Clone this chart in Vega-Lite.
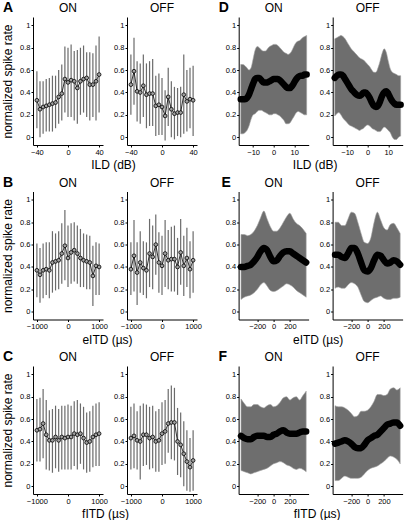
{
"$schema": "https://vega.github.io/schema/vega-lite/v6.json",
"padding": {"left": 1, "top": 1, "right": 0, "bottom": 0},
"spacing": 4.5,
"vconcat": [
 {"spacing": 20.7, "hconcat": [
  {"bounds": "flush", "spacing": 24,
   "title": {"text": "A", "anchor": "start", "frame": "group", "fontWeight": "bold", "fontSize": 14, "offset": -24, "baseline": "alphabetic", "dx": -30},
   "hconcat": [
    {"width": 70, "height": 128, "data": {"name": "A_ON"}, "title": {"text": "ON"},
     "encoding": {"x": {"field": "x", "type": "quantitative", "scale": {"domain": [-45, 45], "nice": false, "zero": false}, "axis": {"values": [-40, 0, 40], "format": "d", "title": "ILD (dB)", "titleX": 80}}},
     "layer": [
      {"mark": {"type": "rule", "color": "#6b6b6b", "strokeWidth": 1.2}, "encoding": {"y": {"field": "lo", "type": "quantitative", "scale": {"domain": [-0.07, 1.075], "nice": false, "zero": false}, "axis": {"values": [0, 0.2, 0.4, 0.6, 0.8, 1], "format": "~g"}, "title": "normalized spike rate"}, "y2": {"field": "hi"}}},
      {"mark": {"type": "line", "color": "black", "strokeWidth": 0.8}, "encoding": {"y": {"field": "m", "type": "quantitative", "scale": {"domain": [-0.07, 1.075], "nice": false, "zero": false}, "axis": {"values": [0, 0.2, 0.4, 0.6, 0.8, 1], "format": "~g"}, "title": "normalized spike rate"}}},
      {"mark": {"type": "point", "shape": "circle", "filled": true, "color": "#a0a0a0", "stroke": "black", "strokeWidth": 0.8, "size": 14, "opacity": 1}, "encoding": {"y": {"field": "m", "type": "quantitative", "scale": {"domain": [-0.07, 1.075], "nice": false, "zero": false}, "axis": {"values": [0, 0.2, 0.4, 0.6, 0.8, 1], "format": "~g"}, "title": "normalized spike rate"}}}
     ]},
    {"width": 70, "height": 128, "data": {"name": "A_OFF"}, "title": {"text": "OFF"},
     "encoding": {"x": {"field": "x", "type": "quantitative", "scale": {"domain": [-45, 45], "nice": false, "zero": false}, "axis": {"values": [-40, 0, 40], "format": "d", "title": null}}},
     "layer": [
      {"mark": {"type": "rule", "color": "#6b6b6b", "strokeWidth": 1.2}, "encoding": {"y": {"field": "lo", "type": "quantitative", "scale": {"domain": [-0.07, 1.075], "nice": false, "zero": false}, "axis": {"values": [0, 0.2, 0.4, 0.6, 0.8, 1], "format": "~g"}, "title": null}, "y2": {"field": "hi"}}},
      {"mark": {"type": "line", "color": "black", "strokeWidth": 0.8}, "encoding": {"y": {"field": "m", "type": "quantitative", "scale": {"domain": [-0.07, 1.075], "nice": false, "zero": false}, "axis": {"values": [0, 0.2, 0.4, 0.6, 0.8, 1], "format": "~g"}, "title": null}}},
      {"mark": {"type": "point", "shape": "circle", "filled": true, "color": "#a0a0a0", "stroke": "black", "strokeWidth": 0.8, "size": 14, "opacity": 1}, "encoding": {"y": {"field": "m", "type": "quantitative", "scale": {"domain": [-0.07, 1.075], "nice": false, "zero": false}, "axis": {"values": [0, 0.2, 0.4, 0.6, 0.8, 1], "format": "~g"}, "title": null}}}
     ]}
   ]},
  {"bounds": "flush", "spacing": 24,
   "title": {"text": "D", "anchor": "start", "frame": "group", "fontWeight": "bold", "fontSize": 14, "offset": -24, "baseline": "alphabetic", "dx": -20},
   "hconcat": [
    {"width": 70, "height": 128, "data": {"name": "D_ON"}, "title": {"text": "ON"},
     "encoding": {"x": {"field": "x", "type": "quantitative", "scale": {"domain": [-17, 17], "nice": false, "zero": false}, "axis": {"values": [-10, 0, 10], "format": "d", "title": "ILD (dB)", "titleX": 76}}},
     "layer": [
      {"mark": {"type": "area", "color": "#6e6e6e", "stroke": "#a0a0a0", "strokeWidth": 0.6, "opacity": 1, "interpolate": "monotone"}, "encoding": {"y": {"field": "lo", "type": "quantitative", "scale": {"domain": [-0.07, 1.075], "nice": false, "zero": false}, "axis": {"values": [0, 0.2, 0.4, 0.6, 0.8, 1], "format": "~g"}, "title": null}, "y2": {"field": "hi"}}},
      {"mark": {"type": "line", "color": "black", "strokeWidth": 6.5, "strokeCap": "round", "interpolate": "monotone"}, "encoding": {"y": {"field": "m", "type": "quantitative", "scale": {"domain": [-0.07, 1.075], "nice": false, "zero": false}, "axis": {"values": [0, 0.2, 0.4, 0.6, 0.8, 1], "format": "~g"}, "title": null}}}
     ]},
    {"width": 70, "height": 128, "data": {"name": "D_OFF"}, "title": {"text": "OFF"},
     "encoding": {"x": {"field": "x", "type": "quantitative", "scale": {"domain": [-17, 17], "nice": false, "zero": false}, "axis": {"values": [-10, 0, 10], "format": "d", "title": null}}},
     "layer": [
      {"mark": {"type": "area", "color": "#6e6e6e", "stroke": "#a0a0a0", "strokeWidth": 0.6, "opacity": 1, "interpolate": "monotone"}, "encoding": {"y": {"field": "lo", "type": "quantitative", "scale": {"domain": [-0.07, 1.075], "nice": false, "zero": false}, "axis": {"values": [0, 0.2, 0.4, 0.6, 0.8, 1], "format": "~g"}, "title": null}, "y2": {"field": "hi"}}},
      {"mark": {"type": "line", "color": "black", "strokeWidth": 6.5, "strokeCap": "round", "interpolate": "monotone"}, "encoding": {"y": {"field": "m", "type": "quantitative", "scale": {"domain": [-0.07, 1.075], "nice": false, "zero": false}, "axis": {"values": [0, 0.2, 0.4, 0.6, 0.8, 1], "format": "~g"}, "title": null}}}
     ]}
   ]}
 ]},
 {"spacing": 19.6, "hconcat": [
  {"bounds": "flush", "spacing": 24,
   "title": {"text": "B", "anchor": "start", "frame": "group", "fontWeight": "bold", "fontSize": 14, "offset": -24, "baseline": "alphabetic", "dx": -30},
   "hconcat": [
    {"width": 70, "height": 128, "data": {"name": "B_ON"}, "title": {"text": "ON"},
     "encoding": {"x": {"field": "x", "type": "quantitative", "scale": {"domain": [-1125, 1125], "nice": false, "zero": false}, "axis": {"values": [-1000, 0, 1000], "format": "d", "title": "eITD (µs)", "titleX": 74}}},
     "layer": [
      {"mark": {"type": "rule", "color": "#6b6b6b", "strokeWidth": 1.2}, "encoding": {"y": {"field": "lo", "type": "quantitative", "scale": {"domain": [-0.07, 1.075], "nice": false, "zero": false}, "axis": {"values": [0, 0.2, 0.4, 0.6, 0.8, 1], "format": "~g"}, "title": "normalized spike rate"}, "y2": {"field": "hi"}}},
      {"mark": {"type": "line", "color": "black", "strokeWidth": 0.8}, "encoding": {"y": {"field": "m", "type": "quantitative", "scale": {"domain": [-0.07, 1.075], "nice": false, "zero": false}, "axis": {"values": [0, 0.2, 0.4, 0.6, 0.8, 1], "format": "~g"}, "title": "normalized spike rate"}}},
      {"mark": {"type": "point", "shape": "circle", "filled": true, "color": "#a0a0a0", "stroke": "black", "strokeWidth": 0.8, "size": 14, "opacity": 1}, "encoding": {"y": {"field": "m", "type": "quantitative", "scale": {"domain": [-0.07, 1.075], "nice": false, "zero": false}, "axis": {"values": [0, 0.2, 0.4, 0.6, 0.8, 1], "format": "~g"}, "title": "normalized spike rate"}}}
     ]},
    {"width": 70, "height": 128, "data": {"name": "B_OFF"}, "title": {"text": "OFF"},
     "encoding": {"x": {"field": "x", "type": "quantitative", "scale": {"domain": [-1125, 1125], "nice": false, "zero": false}, "axis": {"values": [-1000, 0, 1000], "format": "d", "title": null}}},
     "layer": [
      {"mark": {"type": "rule", "color": "#6b6b6b", "strokeWidth": 1.2}, "encoding": {"y": {"field": "lo", "type": "quantitative", "scale": {"domain": [-0.07, 1.075], "nice": false, "zero": false}, "axis": {"values": [0, 0.2, 0.4, 0.6, 0.8, 1], "format": "~g"}, "title": null}, "y2": {"field": "hi"}}},
      {"mark": {"type": "line", "color": "black", "strokeWidth": 0.8}, "encoding": {"y": {"field": "m", "type": "quantitative", "scale": {"domain": [-0.07, 1.075], "nice": false, "zero": false}, "axis": {"values": [0, 0.2, 0.4, 0.6, 0.8, 1], "format": "~g"}, "title": null}}},
      {"mark": {"type": "point", "shape": "circle", "filled": true, "color": "#a0a0a0", "stroke": "black", "strokeWidth": 0.8, "size": 14, "opacity": 1}, "encoding": {"y": {"field": "m", "type": "quantitative", "scale": {"domain": [-0.07, 1.075], "nice": false, "zero": false}, "axis": {"values": [0, 0.2, 0.4, 0.6, 0.8, 1], "format": "~g"}, "title": null}}}
     ]}
   ]},
  {"bounds": "flush", "spacing": 24,
   "title": {"text": "E", "anchor": "start", "frame": "group", "fontWeight": "bold", "fontSize": 14, "offset": -24, "baseline": "alphabetic", "dx": -17},
   "hconcat": [
    {"width": 70, "height": 128, "data": {"name": "E_ON"}, "title": {"text": "ON"},
     "encoding": {"x": {"field": "x", "type": "quantitative", "scale": {"domain": [-430, 430], "nice": false, "zero": false}, "axis": {"values": [-200, 0, 200], "format": "d", "title": "eITD (µs)", "titleX": 79}}},
     "layer": [
      {"mark": {"type": "area", "color": "#6e6e6e", "stroke": "#a0a0a0", "strokeWidth": 0.6, "opacity": 1, "interpolate": "monotone"}, "encoding": {"y": {"field": "lo", "type": "quantitative", "scale": {"domain": [-0.07, 1.075], "nice": false, "zero": false}, "axis": {"values": [0, 0.2, 0.4, 0.6, 0.8, 1], "format": "~g"}, "title": null}, "y2": {"field": "hi"}}},
      {"mark": {"type": "line", "color": "black", "strokeWidth": 6.5, "strokeCap": "round", "interpolate": "monotone"}, "encoding": {"y": {"field": "m", "type": "quantitative", "scale": {"domain": [-0.07, 1.075], "nice": false, "zero": false}, "axis": {"values": [0, 0.2, 0.4, 0.6, 0.8, 1], "format": "~g"}, "title": null}}}
     ]},
    {"width": 70, "height": 128, "data": {"name": "E_OFF"}, "title": {"text": "OFF"},
     "encoding": {"x": {"field": "x", "type": "quantitative", "scale": {"domain": [-430, 430], "nice": false, "zero": false}, "axis": {"values": [-200, 0, 200], "format": "d", "title": null}}},
     "layer": [
      {"mark": {"type": "area", "color": "#6e6e6e", "stroke": "#a0a0a0", "strokeWidth": 0.6, "opacity": 1, "interpolate": "monotone"}, "encoding": {"y": {"field": "lo", "type": "quantitative", "scale": {"domain": [-0.07, 1.075], "nice": false, "zero": false}, "axis": {"values": [0, 0.2, 0.4, 0.6, 0.8, 1], "format": "~g"}, "title": null}, "y2": {"field": "hi"}}},
      {"mark": {"type": "line", "color": "black", "strokeWidth": 6.5, "strokeCap": "round", "interpolate": "monotone"}, "encoding": {"y": {"field": "m", "type": "quantitative", "scale": {"domain": [-0.07, 1.075], "nice": false, "zero": false}, "axis": {"values": [0, 0.2, 0.4, 0.6, 0.8, 1], "format": "~g"}, "title": null}}}
     ]}
   ]}
 ]},
 {"spacing": 16.6, "hconcat": [
  {"bounds": "flush", "spacing": 24,
   "title": {"text": "C", "anchor": "start", "frame": "group", "fontWeight": "bold", "fontSize": 14, "offset": -24, "baseline": "alphabetic", "dx": -30},
   "hconcat": [
    {"width": 70, "height": 128, "data": {"name": "C_ON"}, "title": {"text": "ON"},
     "encoding": {"x": {"field": "x", "type": "quantitative", "scale": {"domain": [-1125, 1125], "nice": false, "zero": false}, "axis": {"values": [-1000, 0, 1000], "format": "d", "title": "fITD (µs)", "titleX": 72}}},
     "layer": [
      {"mark": {"type": "rule", "color": "#6b6b6b", "strokeWidth": 1.2}, "encoding": {"y": {"field": "lo", "type": "quantitative", "scale": {"domain": [-0.07, 1.075], "nice": false, "zero": false}, "axis": {"values": [0, 0.2, 0.4, 0.6, 0.8, 1], "format": "~g"}, "title": "normalized spike rate"}, "y2": {"field": "hi"}}},
      {"mark": {"type": "line", "color": "black", "strokeWidth": 0.8}, "encoding": {"y": {"field": "m", "type": "quantitative", "scale": {"domain": [-0.07, 1.075], "nice": false, "zero": false}, "axis": {"values": [0, 0.2, 0.4, 0.6, 0.8, 1], "format": "~g"}, "title": "normalized spike rate"}}},
      {"mark": {"type": "point", "shape": "circle", "filled": true, "color": "#a0a0a0", "stroke": "black", "strokeWidth": 0.8, "size": 14, "opacity": 1}, "encoding": {"y": {"field": "m", "type": "quantitative", "scale": {"domain": [-0.07, 1.075], "nice": false, "zero": false}, "axis": {"values": [0, 0.2, 0.4, 0.6, 0.8, 1], "format": "~g"}, "title": "normalized spike rate"}}}
     ]},
    {"width": 70, "height": 128, "data": {"name": "C_OFF"}, "title": {"text": "OFF"},
     "encoding": {"x": {"field": "x", "type": "quantitative", "scale": {"domain": [-1125, 1125], "nice": false, "zero": false}, "axis": {"values": [-1000, 0, 1000], "format": "d", "title": null}}},
     "layer": [
      {"mark": {"type": "rule", "color": "#6b6b6b", "strokeWidth": 1.2}, "encoding": {"y": {"field": "lo", "type": "quantitative", "scale": {"domain": [-0.07, 1.075], "nice": false, "zero": false}, "axis": {"values": [0, 0.2, 0.4, 0.6, 0.8, 1], "format": "~g"}, "title": null}, "y2": {"field": "hi"}}},
      {"mark": {"type": "line", "color": "black", "strokeWidth": 0.8}, "encoding": {"y": {"field": "m", "type": "quantitative", "scale": {"domain": [-0.07, 1.075], "nice": false, "zero": false}, "axis": {"values": [0, 0.2, 0.4, 0.6, 0.8, 1], "format": "~g"}, "title": null}}},
      {"mark": {"type": "point", "shape": "circle", "filled": true, "color": "#a0a0a0", "stroke": "black", "strokeWidth": 0.8, "size": 14, "opacity": 1}, "encoding": {"y": {"field": "m", "type": "quantitative", "scale": {"domain": [-0.07, 1.075], "nice": false, "zero": false}, "axis": {"values": [0, 0.2, 0.4, 0.6, 0.8, 1], "format": "~g"}, "title": null}}}
     ]}
   ]},
  {"bounds": "flush", "spacing": 24,
   "title": {"text": "F", "anchor": "start", "frame": "group", "fontWeight": "bold", "fontSize": 14, "offset": -24, "baseline": "alphabetic", "dx": -20},
   "hconcat": [
    {"width": 70, "height": 128, "data": {"name": "F_ON"}, "title": {"text": "ON"},
     "encoding": {"x": {"field": "x", "type": "quantitative", "scale": {"domain": [-430, 430], "nice": false, "zero": false}, "axis": {"values": [-200, 0, 200], "format": "d", "title": "fITD (µs)", "titleX": 78}}},
     "layer": [
      {"mark": {"type": "area", "color": "#6e6e6e", "stroke": "#a0a0a0", "strokeWidth": 0.6, "opacity": 1, "interpolate": "monotone"}, "encoding": {"y": {"field": "lo", "type": "quantitative", "scale": {"domain": [-0.07, 1.075], "nice": false, "zero": false}, "axis": {"values": [0, 0.2, 0.4, 0.6, 0.8, 1], "format": "~g"}, "title": null}, "y2": {"field": "hi"}}},
      {"mark": {"type": "line", "color": "black", "strokeWidth": 6.5, "strokeCap": "round", "interpolate": "monotone"}, "encoding": {"y": {"field": "m", "type": "quantitative", "scale": {"domain": [-0.07, 1.075], "nice": false, "zero": false}, "axis": {"values": [0, 0.2, 0.4, 0.6, 0.8, 1], "format": "~g"}, "title": null}}}
     ]},
    {"width": 70, "height": 128, "data": {"name": "F_OFF"}, "title": {"text": "OFF"},
     "encoding": {"x": {"field": "x", "type": "quantitative", "scale": {"domain": [-430, 430], "nice": false, "zero": false}, "axis": {"values": [-200, 0, 200], "format": "d", "title": null}}},
     "layer": [
      {"mark": {"type": "area", "color": "#6e6e6e", "stroke": "#a0a0a0", "strokeWidth": 0.6, "opacity": 1, "interpolate": "monotone"}, "encoding": {"y": {"field": "lo", "type": "quantitative", "scale": {"domain": [-0.07, 1.075], "nice": false, "zero": false}, "axis": {"values": [0, 0.2, 0.4, 0.6, 0.8, 1], "format": "~g"}, "title": null}, "y2": {"field": "hi"}}},
      {"mark": {"type": "line", "color": "black", "strokeWidth": 6.5, "strokeCap": "round", "interpolate": "monotone"}, "encoding": {"y": {"field": "m", "type": "quantitative", "scale": {"domain": [-0.07, 1.075], "nice": false, "zero": false}, "axis": {"values": [0, 0.2, 0.4, 0.6, 0.8, 1], "format": "~g"}, "title": null}}}
     ]}
   ]}
 ]}
],
"datasets": {
 "A_ON": [
  {"x": -40, "m": 0.33, "lo": 0.08, "hi": 0.59}, {"x": -36, "m": 0.25, "lo": 0.00, "hi": 0.50}, {"x": -32, "m": 0.27, "lo": 0.03, "hi": 0.50},
  {"x": -28, "m": 0.28, "lo": 0.05, "hi": 0.52}, {"x": -24, "m": 0.29, "lo": 0.05, "hi": 0.53}, {"x": -20, "m": 0.30, "lo": 0.05, "hi": 0.55},
  {"x": -16, "m": 0.31, "lo": 0.08, "hi": 0.55}, {"x": -12, "m": 0.36, "lo": 0.12, "hi": 0.60}, {"x": -8, "m": 0.39, "lo": 0.15, "hi": 0.65},
  {"x": -4, "m": 0.52, "lo": 0.22, "hi": 0.81}, {"x": 0, "m": 0.49, "lo": 0.18, "hi": 0.80}, {"x": 4, "m": 0.51, "lo": 0.18, "hi": 0.83},
  {"x": 8, "m": 0.50, "lo": 0.15, "hi": 0.77}, {"x": 12, "m": 0.44, "lo": 0.12, "hi": 0.78}, {"x": 16, "m": 0.50, "lo": 0.20, "hi": 0.80},
  {"x": 20, "m": 0.52, "lo": 0.22, "hi": 0.82}, {"x": 24, "m": 0.53, "lo": 0.18, "hi": 0.76}, {"x": 28, "m": 0.47, "lo": 0.15, "hi": 0.76},
  {"x": 32, "m": 0.47, "lo": 0.18, "hi": 0.75}, {"x": 36, "m": 0.50, "lo": 0.15, "hi": 0.82}, {"x": 40, "m": 0.56, "lo": 0.22, "hi": 0.90}
 ],
 "A_OFF": [
  {"x": -40, "m": 0.47, "lo": 0.20, "hi": 0.74}, {"x": -36, "m": 0.59, "lo": 0.29, "hi": 0.89}, {"x": -32, "m": 0.41, "lo": 0.14, "hi": 0.68},
  {"x": -28, "m": 0.40, "lo": 0.12, "hi": 0.66}, {"x": -24, "m": 0.46, "lo": 0.18, "hi": 0.74}, {"x": -20, "m": 0.38, "lo": 0.08, "hi": 0.66},
  {"x": -16, "m": 0.39, "lo": 0.10, "hi": 0.68}, {"x": -12, "m": 0.39, "lo": 0.10, "hi": 0.70}, {"x": -8, "m": 0.28, "lo": 0.01, "hi": 0.55},
  {"x": -4, "m": 0.29, "lo": 0.02, "hi": 0.57}, {"x": 0, "m": 0.27, "lo": 0.02, "hi": 0.53}, {"x": 4, "m": 0.19, "lo": -0.03, "hi": 0.42},
  {"x": 8, "m": 0.36, "lo": 0.10, "hi": 0.62}, {"x": 12, "m": 0.25, "lo": 0.00, "hi": 0.50}, {"x": 16, "m": 0.21, "lo": -0.02, "hi": 0.45},
  {"x": 20, "m": 0.22, "lo": 0.01, "hi": 0.44}, {"x": 24, "m": 0.22, "lo": 0.00, "hi": 0.45}, {"x": 28, "m": 0.38, "lo": 0.03, "hi": 0.74},
  {"x": 32, "m": 0.32, "lo": 0.05, "hi": 0.60}, {"x": 36, "m": 0.34, "lo": 0.08, "hi": 0.62}, {"x": 40, "m": 0.33, "lo": 0.01, "hi": 0.64}
 ],
 "B_ON": [
  {"x": -1000, "m": 0.37, "lo": 0.13, "hi": 0.61}, {"x": -900, "m": 0.33, "lo": 0.08, "hi": 0.57}, {"x": -800, "m": 0.37, "lo": 0.12, "hi": 0.61},
  {"x": -700, "m": 0.38, "lo": 0.15, "hi": 0.62}, {"x": -600, "m": 0.37, "lo": 0.12, "hi": 0.62}, {"x": -500, "m": 0.44, "lo": 0.17, "hi": 0.72},
  {"x": -400, "m": 0.45, "lo": 0.19, "hi": 0.70}, {"x": -300, "m": 0.46, "lo": 0.20, "hi": 0.72}, {"x": -200, "m": 0.52, "lo": 0.25, "hi": 0.79},
  {"x": -100, "m": 0.59, "lo": 0.28, "hi": 0.91}, {"x": 0, "m": 0.48, "lo": 0.22, "hi": 0.77}, {"x": 100, "m": 0.53, "lo": 0.25, "hi": 0.79},
  {"x": 200, "m": 0.55, "lo": 0.27, "hi": 0.80}, {"x": 300, "m": 0.52, "lo": 0.25, "hi": 0.77}, {"x": 400, "m": 0.48, "lo": 0.22, "hi": 0.74},
  {"x": 500, "m": 0.46, "lo": 0.22, "hi": 0.70}, {"x": 600, "m": 0.45, "lo": 0.20, "hi": 0.69}, {"x": 700, "m": 0.44, "lo": 0.20, "hi": 0.68},
  {"x": 800, "m": 0.32, "lo": 0.05, "hi": 0.59}, {"x": 900, "m": 0.41, "lo": 0.15, "hi": 0.62}, {"x": 1000, "m": 0.40, "lo": 0.15, "hi": 0.61}
 ],
 "B_OFF": [
  {"x": -1000, "m": 0.38, "lo": 0.15, "hi": 0.62}, {"x": -900, "m": 0.50, "lo": 0.18, "hi": 0.82}, {"x": -800, "m": 0.35, "lo": 0.06, "hi": 0.62},
  {"x": -700, "m": 0.44, "lo": 0.17, "hi": 0.72}, {"x": -600, "m": 0.39, "lo": 0.15, "hi": 0.63}, {"x": -500, "m": 0.37, "lo": 0.12, "hi": 0.62},
  {"x": -400, "m": 0.52, "lo": 0.22, "hi": 0.83}, {"x": -300, "m": 0.49, "lo": 0.20, "hi": 0.77}, {"x": -200, "m": 0.60, "lo": 0.33, "hi": 0.87},
  {"x": -100, "m": 0.44, "lo": 0.17, "hi": 0.71}, {"x": 0, "m": 0.41, "lo": 0.15, "hi": 0.68}, {"x": 100, "m": 0.52, "lo": 0.22, "hi": 0.82},
  {"x": 200, "m": 0.46, "lo": 0.20, "hi": 0.73}, {"x": 300, "m": 0.47, "lo": 0.18, "hi": 0.76}, {"x": 400, "m": 0.47, "lo": 0.18, "hi": 0.77},
  {"x": 500, "m": 0.40, "lo": 0.15, "hi": 0.66}, {"x": 600, "m": 0.53, "lo": 0.24, "hi": 0.83}, {"x": 700, "m": 0.41, "lo": 0.14, "hi": 0.68},
  {"x": 800, "m": 0.48, "lo": 0.22, "hi": 0.75}, {"x": 900, "m": 0.38, "lo": 0.12, "hi": 0.63}, {"x": 1000, "m": 0.46, "lo": 0.17, "hi": 0.72}
 ],
 "C_ON": [
  {"x": -1000, "m": 0.50, "lo": 0.22, "hi": 0.78}, {"x": -900, "m": 0.51, "lo": 0.22, "hi": 0.79}, {"x": -800, "m": 0.56, "lo": 0.25, "hi": 0.87},
  {"x": -700, "m": 0.46, "lo": 0.15, "hi": 0.77}, {"x": -600, "m": 0.41, "lo": 0.14, "hi": 0.68}, {"x": -500, "m": 0.41, "lo": 0.12, "hi": 0.69},
  {"x": -400, "m": 0.44, "lo": 0.16, "hi": 0.72}, {"x": -300, "m": 0.41, "lo": 0.13, "hi": 0.69}, {"x": -200, "m": 0.44, "lo": 0.15, "hi": 0.72},
  {"x": -100, "m": 0.43, "lo": 0.15, "hi": 0.72}, {"x": 0, "m": 0.44, "lo": 0.15, "hi": 0.73}, {"x": 100, "m": 0.44, "lo": 0.15, "hi": 0.72},
  {"x": 200, "m": 0.47, "lo": 0.18, "hi": 0.76}, {"x": 300, "m": 0.46, "lo": 0.15, "hi": 0.77}, {"x": 400, "m": 0.47, "lo": 0.20, "hi": 0.74},
  {"x": 500, "m": 0.43, "lo": 0.15, "hi": 0.71}, {"x": 600, "m": 0.39, "lo": 0.12, "hi": 0.66}, {"x": 700, "m": 0.40, "lo": 0.13, "hi": 0.67},
  {"x": 800, "m": 0.44, "lo": 0.17, "hi": 0.72}, {"x": 900, "m": 0.46, "lo": 0.18, "hi": 0.74}, {"x": 1000, "m": 0.47, "lo": 0.18, "hi": 0.75}
 ],
 "C_OFF": [
  {"x": -1000, "m": 0.43, "lo": 0.15, "hi": 0.71}, {"x": -900, "m": 0.45, "lo": 0.16, "hi": 0.74}, {"x": -800, "m": 0.41, "lo": 0.15, "hi": 0.67},
  {"x": -700, "m": 0.40, "lo": 0.06, "hi": 0.72}, {"x": -600, "m": 0.46, "lo": 0.18, "hi": 0.74}, {"x": -500, "m": 0.46, "lo": 0.19, "hi": 0.73},
  {"x": -400, "m": 0.43, "lo": 0.15, "hi": 0.71}, {"x": -300, "m": 0.44, "lo": 0.16, "hi": 0.72}, {"x": -200, "m": 0.40, "lo": 0.13, "hi": 0.67},
  {"x": -100, "m": 0.41, "lo": 0.13, "hi": 0.69}, {"x": 0, "m": 0.47, "lo": 0.19, "hi": 0.75}, {"x": 100, "m": 0.49, "lo": 0.20, "hi": 0.77},
  {"x": 200, "m": 0.56, "lo": 0.30, "hi": 0.87}, {"x": 300, "m": 0.57, "lo": 0.24, "hi": 0.90}, {"x": 400, "m": 0.57, "lo": 0.23, "hi": 0.88},
  {"x": 500, "m": 0.40, "lo": 0.10, "hi": 0.70}, {"x": 600, "m": 0.37, "lo": 0.08, "hi": 0.66}, {"x": 700, "m": 0.29, "lo": 0.00, "hi": 0.58},
  {"x": 800, "m": 0.22, "lo": -0.04, "hi": 0.50}, {"x": 900, "m": 0.17, "lo": -0.05, "hi": 0.43}, {"x": 1000, "m": 0.23, "lo": -0.04, "hi": 0.50}
 ],
 "D_ON": [
  {"x": -16, "m": 0.34, "lo": 0.03, "hi": 0.65}, {"x": -15, "m": 0.34, "lo": 0.03, "hi": 0.65}, {"x": -14, "m": 0.34, "lo": 0.04, "hi": 0.64},
  {"x": -13, "m": 0.35, "lo": 0.06, "hi": 0.62}, {"x": -12, "m": 0.38, "lo": 0.10, "hi": 0.60}, {"x": -11, "m": 0.43, "lo": 0.16, "hi": 0.62},
  {"x": -10, "m": 0.48, "lo": 0.20, "hi": 0.70}, {"x": -9, "m": 0.52, "lo": 0.21, "hi": 0.78}, {"x": -8, "m": 0.53, "lo": 0.23, "hi": 0.81},
  {"x": -7, "m": 0.53, "lo": 0.24, "hi": 0.80}, {"x": -6, "m": 0.51, "lo": 0.24, "hi": 0.78}, {"x": -5, "m": 0.49, "lo": 0.23, "hi": 0.77},
  {"x": -4, "m": 0.49, "lo": 0.22, "hi": 0.77}, {"x": -3, "m": 0.49, "lo": 0.21, "hi": 0.79}, {"x": -2, "m": 0.50, "lo": 0.20, "hi": 0.81},
  {"x": -1, "m": 0.51, "lo": 0.20, "hi": 0.82}, {"x": 0, "m": 0.52, "lo": 0.21, "hi": 0.83}, {"x": 1, "m": 0.52, "lo": 0.21, "hi": 0.83},
  {"x": 2, "m": 0.52, "lo": 0.20, "hi": 0.82}, {"x": 3, "m": 0.51, "lo": 0.19, "hi": 0.80}, {"x": 4, "m": 0.49, "lo": 0.17, "hi": 0.78},
  {"x": 5, "m": 0.47, "lo": 0.15, "hi": 0.76}, {"x": 6, "m": 0.45, "lo": 0.12, "hi": 0.75}, {"x": 7, "m": 0.44, "lo": 0.12, "hi": 0.74},
  {"x": 8, "m": 0.44, "lo": 0.13, "hi": 0.75}, {"x": 9, "m": 0.46, "lo": 0.16, "hi": 0.78}, {"x": 10, "m": 0.49, "lo": 0.19, "hi": 0.82},
  {"x": 11, "m": 0.52, "lo": 0.22, "hi": 0.85}, {"x": 12, "m": 0.54, "lo": 0.23, "hi": 0.86}, {"x": 13, "m": 0.55, "lo": 0.22, "hi": 0.87},
  {"x": 14, "m": 0.55, "lo": 0.21, "hi": 0.89}, {"x": 15, "m": 0.56, "lo": 0.20, "hi": 0.90}, {"x": 16, "m": 0.56, "lo": 0.20, "hi": 0.91}
 ],
 "D_OFF": [
  {"x": -16, "m": 0.53, "lo": 0.19, "hi": 0.88}, {"x": -15, "m": 0.55, "lo": 0.21, "hi": 0.89}, {"x": -14, "m": 0.56, "lo": 0.22, "hi": 0.90},
  {"x": -13, "m": 0.56, "lo": 0.20, "hi": 0.91}, {"x": -12, "m": 0.55, "lo": 0.17, "hi": 0.90}, {"x": -11, "m": 0.52, "lo": 0.15, "hi": 0.88},
  {"x": -10, "m": 0.49, "lo": 0.13, "hi": 0.85}, {"x": -9, "m": 0.46, "lo": 0.11, "hi": 0.82}, {"x": -8, "m": 0.43, "lo": 0.10, "hi": 0.79},
  {"x": -7, "m": 0.41, "lo": 0.09, "hi": 0.77}, {"x": -6, "m": 0.39, "lo": 0.08, "hi": 0.75}, {"x": -5, "m": 0.375, "lo": 0.07, "hi": 0.73},
  {"x": -4, "m": 0.37, "lo": 0.06, "hi": 0.71}, {"x": -3, "m": 0.38, "lo": 0.07, "hi": 0.70}, {"x": -2, "m": 0.40, "lo": 0.08, "hi": 0.69},
  {"x": -1, "m": 0.40, "lo": 0.10, "hi": 0.67}, {"x": 0, "m": 0.38, "lo": 0.11, "hi": 0.65}, {"x": 1, "m": 0.35, "lo": 0.10, "hi": 0.63},
  {"x": 2, "m": 0.31, "lo": 0.08, "hi": 0.60}, {"x": 3, "m": 0.28, "lo": 0.07, "hi": 0.58}, {"x": 4, "m": 0.27, "lo": 0.06, "hi": 0.58},
  {"x": 5, "m": 0.28, "lo": 0.05, "hi": 0.62}, {"x": 6, "m": 0.32, "lo": 0.05, "hi": 0.68}, {"x": 7, "m": 0.37, "lo": 0.07, "hi": 0.75},
  {"x": 8, "m": 0.40, "lo": 0.09, "hi": 0.79}, {"x": 9, "m": 0.41, "lo": 0.08, "hi": 0.76}, {"x": 10, "m": 0.39, "lo": 0.06, "hi": 0.68},
  {"x": 11, "m": 0.35, "lo": 0.04, "hi": 0.61}, {"x": 12, "m": 0.32, "lo": 0.00, "hi": 0.58}, {"x": 13, "m": 0.30, "lo": -0.02, "hi": 0.57},
  {"x": 14, "m": 0.29, "lo": -0.02, "hi": 0.56}, {"x": 15, "m": 0.29, "lo": 0.00, "hi": 0.55}, {"x": 16, "m": 0.29, "lo": 0.01, "hi": 0.55}
 ],
 "E_ON": [
  {"x": -400, "m": 0.40, "lo": 0.11, "hi": 0.69}, {"x": -360, "m": 0.40, "lo": 0.13, "hi": 0.69}, {"x": -320, "m": 0.41, "lo": 0.14, "hi": 0.68},
  {"x": -280, "m": 0.42, "lo": 0.15, "hi": 0.69}, {"x": -240, "m": 0.45, "lo": 0.17, "hi": 0.72}, {"x": -200, "m": 0.49, "lo": 0.20, "hi": 0.77},
  {"x": -160, "m": 0.54, "lo": 0.24, "hi": 0.84}, {"x": -120, "m": 0.57, "lo": 0.26, "hi": 0.90}, {"x": -80, "m": 0.55, "lo": 0.23, "hi": 0.83},
  {"x": -40, "m": 0.49, "lo": 0.19, "hi": 0.76}, {"x": 0, "m": 0.45, "lo": 0.18, "hi": 0.72}, {"x": 40, "m": 0.46, "lo": 0.19, "hi": 0.72},
  {"x": 80, "m": 0.50, "lo": 0.21, "hi": 0.75}, {"x": 120, "m": 0.53, "lo": 0.23, "hi": 0.80}, {"x": 160, "m": 0.54, "lo": 0.25, "hi": 0.85},
  {"x": 200, "m": 0.54, "lo": 0.24, "hi": 0.88}, {"x": 240, "m": 0.52, "lo": 0.22, "hi": 0.83}, {"x": 280, "m": 0.50, "lo": 0.19, "hi": 0.79},
  {"x": 320, "m": 0.48, "lo": 0.17, "hi": 0.77}, {"x": 360, "m": 0.46, "lo": 0.15, "hi": 0.74}, {"x": 400, "m": 0.44, "lo": 0.13, "hi": 0.70}
 ],
 "E_OFF": [
  {"x": -400, "m": 0.51, "lo": 0.21, "hi": 0.80}, {"x": -360, "m": 0.51, "lo": 0.22, "hi": 0.80}, {"x": -320, "m": 0.49, "lo": 0.21, "hi": 0.77},
  {"x": -280, "m": 0.48, "lo": 0.21, "hi": 0.77}, {"x": -240, "m": 0.52, "lo": 0.24, "hi": 0.83}, {"x": -200, "m": 0.57, "lo": 0.26, "hi": 0.89},
  {"x": -160, "m": 0.57, "lo": 0.25, "hi": 0.88}, {"x": -120, "m": 0.52, "lo": 0.22, "hi": 0.80}, {"x": -80, "m": 0.44, "lo": 0.15, "hi": 0.70},
  {"x": -40, "m": 0.37, "lo": 0.09, "hi": 0.62}, {"x": 0, "m": 0.36, "lo": 0.08, "hi": 0.61}, {"x": 40, "m": 0.39, "lo": 0.10, "hi": 0.66},
  {"x": 80, "m": 0.46, "lo": 0.12, "hi": 0.80}, {"x": 120, "m": 0.51, "lo": 0.13, "hi": 0.89}, {"x": 160, "m": 0.50, "lo": 0.14, "hi": 0.82},
  {"x": 200, "m": 0.46, "lo": 0.12, "hi": 0.75}, {"x": 240, "m": 0.43, "lo": 0.11, "hi": 0.73}, {"x": 280, "m": 0.44, "lo": 0.11, "hi": 0.78},
  {"x": 320, "m": 0.46, "lo": 0.12, "hi": 0.79}, {"x": 360, "m": 0.45, "lo": 0.12, "hi": 0.75}, {"x": 400, "m": 0.42, "lo": 0.13, "hi": 0.70}
 ],
 "F_ON": [
  {"x": -400, "m": 0.45, "lo": 0.14, "hi": 0.78}, {"x": -360, "m": 0.43, "lo": 0.13, "hi": 0.74}, {"x": -320, "m": 0.42, "lo": 0.12, "hi": 0.71},
  {"x": -280, "m": 0.42, "lo": 0.11, "hi": 0.71}, {"x": -240, "m": 0.44, "lo": 0.12, "hi": 0.73}, {"x": -200, "m": 0.45, "lo": 0.13, "hi": 0.73},
  {"x": -160, "m": 0.45, "lo": 0.14, "hi": 0.71}, {"x": -120, "m": 0.45, "lo": 0.15, "hi": 0.70}, {"x": -80, "m": 0.44, "lo": 0.16, "hi": 0.72},
  {"x": -40, "m": 0.44, "lo": 0.18, "hi": 0.73}, {"x": 0, "m": 0.46, "lo": 0.20, "hi": 0.71}, {"x": 40, "m": 0.47, "lo": 0.21, "hi": 0.72},
  {"x": 80, "m": 0.49, "lo": 0.22, "hi": 0.75}, {"x": 120, "m": 0.50, "lo": 0.21, "hi": 0.79}, {"x": 160, "m": 0.48, "lo": 0.19, "hi": 0.80},
  {"x": 200, "m": 0.47, "lo": 0.18, "hi": 0.77}, {"x": 240, "m": 0.47, "lo": 0.16, "hi": 0.79}, {"x": 280, "m": 0.47, "lo": 0.15, "hi": 0.80},
  {"x": 320, "m": 0.48, "lo": 0.16, "hi": 0.77}, {"x": 360, "m": 0.49, "lo": 0.15, "hi": 0.81}, {"x": 400, "m": 0.49, "lo": 0.13, "hi": 0.85}
 ],
 "F_OFF": [
  {"x": -400, "m": 0.38, "lo": 0.05, "hi": 0.72}, {"x": -360, "m": 0.39, "lo": 0.05, "hi": 0.71}, {"x": -320, "m": 0.40, "lo": 0.07, "hi": 0.71},
  {"x": -280, "m": 0.41, "lo": 0.09, "hi": 0.70}, {"x": -240, "m": 0.40, "lo": 0.08, "hi": 0.68}, {"x": -200, "m": 0.38, "lo": 0.07, "hi": 0.65},
  {"x": -160, "m": 0.35, "lo": 0.07, "hi": 0.62}, {"x": -120, "m": 0.34, "lo": 0.07, "hi": 0.63}, {"x": -80, "m": 0.34, "lo": 0.08, "hi": 0.67},
  {"x": -40, "m": 0.37, "lo": 0.11, "hi": 0.67}, {"x": 0, "m": 0.41, "lo": 0.14, "hi": 0.68}, {"x": 40, "m": 0.43, "lo": 0.16, "hi": 0.71},
  {"x": 80, "m": 0.45, "lo": 0.17, "hi": 0.76}, {"x": 120, "m": 0.46, "lo": 0.18, "hi": 0.82}, {"x": 160, "m": 0.49, "lo": 0.20, "hi": 0.82},
  {"x": 200, "m": 0.52, "lo": 0.22, "hi": 0.81}, {"x": 240, "m": 0.55, "lo": 0.25, "hi": 0.82}, {"x": 280, "m": 0.56, "lo": 0.27, "hi": 0.87},
  {"x": 320, "m": 0.57, "lo": 0.26, "hi": 0.88}, {"x": 360, "m": 0.57, "lo": 0.24, "hi": 0.86}, {"x": 400, "m": 0.54, "lo": 0.20, "hi": 0.88}
 ]
},
"config": {
 "font": "Liberation Sans",
 "view": {"stroke": null},
 "axis": {"grid": false, "domainColor": "black", "domainWidth": 1, "ticks": true, "tickSize": 2, "tickColor": "black", "labelFontSize": 7.5, "labelColor": "black", "labelPadding": 1, "labelFlush": false, "titleFontSize": 12, "titleFontWeight": "normal", "titleColor": "black"},
 "axisY": {"titlePadding": 5},
 "axisX": {"titlePadding": 4},
 "title": {"fontSize": 12, "fontWeight": "normal", "offset": 2, "color": "black", "baseline": "alphabetic"}
}
}
